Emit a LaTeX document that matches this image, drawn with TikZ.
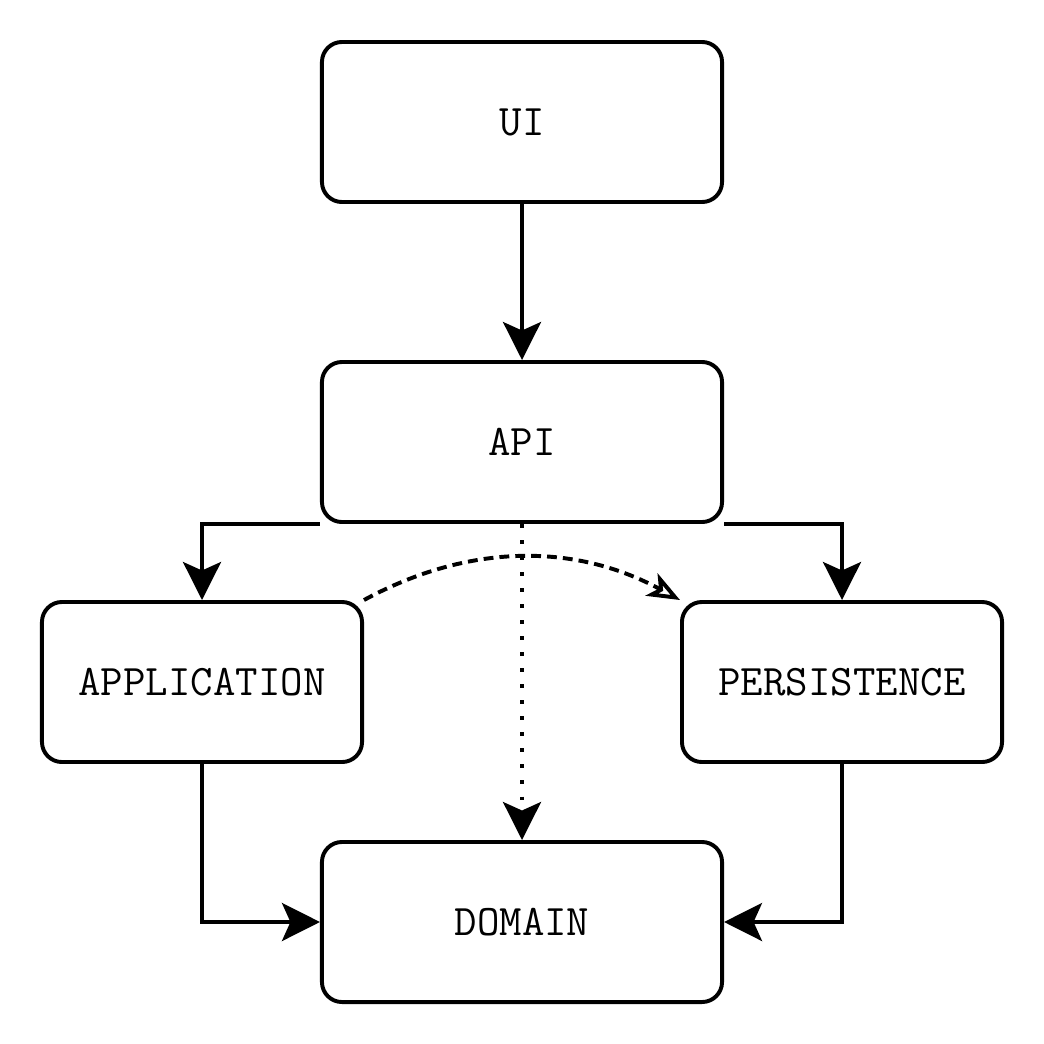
\documentclass[tikz,border=0pt]{standalone}
\usepackage{fontspec}
\usetikzlibrary{arrows.meta, positioning}

\tikzset{
    layer/.style={draw, line width=2.8pt, rounded corners=0.5cm, minimum width=10cm,
        minimum height=4cm, font=\ttfamily\fontsize{31}{36}\selectfont},
    link/.style={line width=2.8pt, -{Stealth[length=27pt, width=27pt, inset=6pt]}},
}

\begin{document}
\begin{tikzpicture}[x=0.025cm, y=-0.025cm]
    % Page frame
    \useasboundingbox (0,0) rectangle (1044,1044);

    % Layers
    \node[layer] (ui) at (522,122) {UI};
    \node[layer] (api) at (522,442) {API};
    \node[layer, minimum width=8cm] (app) at (202,682) {APPLICATION};
    \node[layer, minimum width=8cm] (pers) at (842,682) {PERSISTENCE};
    \node[layer] (dom) at (522,922) {DOMAIN};

    % Dependencies
    \draw[link] (ui) -- (api);
    \draw[link] (api.south west) -| (app.north);
    \draw[link] (api.south east) -| (pers.north);
    \draw[link, dash pattern=on 2.8pt off 8.6pt] (api.south) -- (dom.north);
    \draw[link] (app.south) |- (dom.west);
    \draw[link] (pers.south) |- (dom.east);

    % Application uses persistence
    \draw[line width=2.8pt, dash pattern=on 7pt off 4.3pt,
        -{Stealth[open, fill=white, length=23pt, width=18pt, inset=6pt]}]
        (app.north east) .. controls (469,543) and (575,543) .. (pers.north west);
\end{tikzpicture}
\end{document}
